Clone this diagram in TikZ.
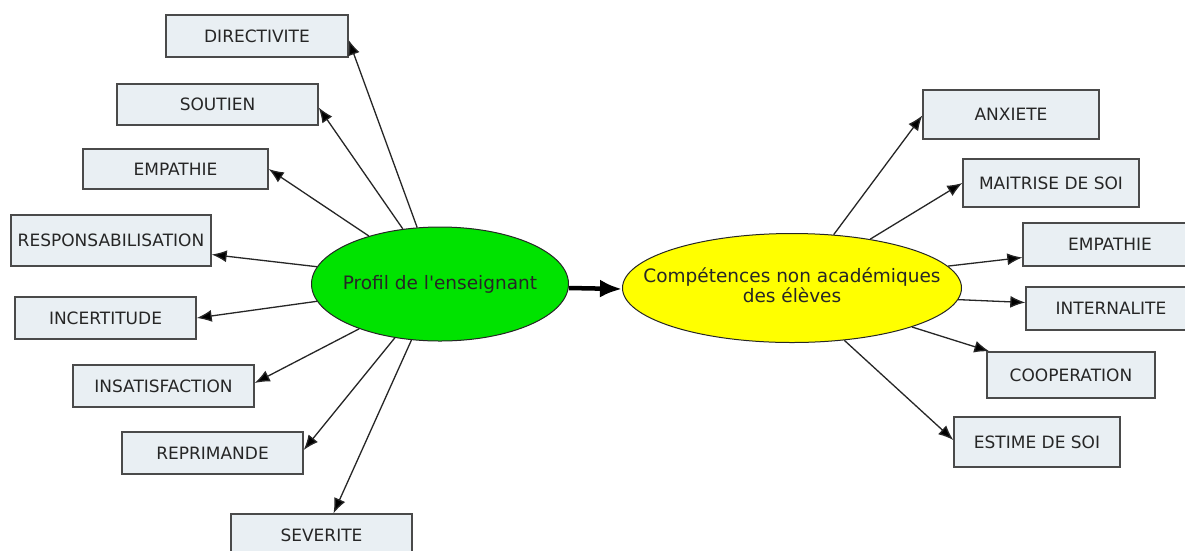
\documentclass[tikz,border=0pt]{standalone}
\usepackage{fontspec}
\setmainfont{DejaVu Sans}
\usetikzlibrary{arrows.meta,shapes.geometric}
\definecolor{boxfill}{HTML}{E9EFF3}
\definecolor{boxline}{HTML}{4A4A4A}
\definecolor{profil}{HTML}{00E300}
\definecolor{eleves}{HTML}{FFFF00}
\definecolor{ink}{HTML}{262626}
\tikzset{%
    >={Latex[length=15pt,width=12pt]}
}

\begin{document}
\begin{tikzpicture}[x=1pt, y=-1pt,
    concept/.style={draw=boxline, fill=boxfill, line width=1.4pt, text=ink, inner sep=0pt,
      font=\fontsize{17}{20}\selectfont},
    hub/.style={ellipse, draw=ink, line width=1pt, text=ink, inner sep=0pt,
      font=\fontsize{18.5}{19}\selectfont},
    link/.style={-{Latex[length=15pt,width=12pt,fill=black]}, draw=ink, line width=1.3pt}]
  \useasboundingbox (0,0) rectangle (1185,550);
  \fill[white] (0,0) rectangle (1185,550);

  % the two centres
  \node[hub, fill=profil, minimum width=257pt, minimum height=114pt] (prof) at (440,284)
    {\makebox[0pt]{Profil de l\textquotesingle enseignant}};
  \node[hub, fill=eleves, minimum width=339pt, minimum height=109pt] (comp) at (792,288)
    {\makebox[0pt]{\begin{tabular}{@{}c@{}}Compétences non académiques\\des élèves\end{tabular}}};
  \draw[-{Latex[length=22pt,width=18pt]}, line width=4.5pt] ([shift={(0,4)}]prof.east) -- ([shift={(0,1)}]comp.west);

  % teacher profile
  \node[concept, minimum width=182pt, minimum height=42pt] (dir) at (257,36) {DIRECTIVITE};
  \node[concept, minimum width=201pt, minimum height=41pt] (sout) at (217.5,104.5) {SOUTIEN};
  \node[concept, minimum width=185pt, minimum height=40pt] (empl) at (175.5,169) {EMPATHIE};
  \node[concept, minimum width=200pt, minimum height=51pt] (resp) at (111,240.5) {RESPONSABILISATION};
  \node[concept, minimum width=181pt, minimum height=42pt] (inc) at (105.5,318) {INCERTITUDE};
  \node[concept, minimum width=181pt, minimum height=42pt] (insat) at (163.5,386) {INSATISFACTION};
  \node[concept, minimum width=181pt, minimum height=42pt] (repr) at (212.5,453) {REPRIMANDE};
  \node[concept, minimum width=181pt, minimum height=42pt] (sev) at (321.5,535) {SEVERITE};

  \draw[link] (prof.112) -- ([shift={(0,4)}]dir.east);
  \draw[link] (prof.124) -- ([shift={(0,3)}]sout.east);
  \draw[link] (prof.146) -- (empl.east);
  \draw[link] (prof.172) -- ([shift={(0,14)}]resp.east);
  \draw[link] (prof.188) -- (inc.east);
  \draw[link] (prof.209) -- ([shift={(0,-3)}]insat.east);
  \draw[link] (prof.230) -- ([shift={(0,-3)}]repr.east);
  \draw[link] (prof.243) -- ([shift={(12,0)}]sev.north);

  % pupils' skills
  \node[concept, minimum width=176pt, minimum height=49pt] (anx) at (1011,114.5) {ANXIETE};
  \node[concept, minimum width=176pt, minimum height=48pt] (mait) at (1051,183) {MAITRISE DE SOI};
  \node[concept, minimum width=174pt, minimum height=43pt] (empr) at (1110,244.5) {EMPATHIE};
  \node[concept, minimum width=170pt, minimum height=43pt] (int) at (1111,308.5) {INTERNALITE};
  \node[concept, minimum width=168pt, minimum height=46pt] (coop) at (1071,375) {COOPERATION};
  \node[concept, minimum width=166pt, minimum height=50pt] (est) at (1037,442) {ESTIME DE SOI};

  \draw[link] (comp.52) -- ([shift={(0,1)}]anx.west);
  \draw[link] (comp.32) -- (mait.west);
  \draw[link] (comp.8) -- ([shift={(0,13)}]empr.west);
  \draw[link] (comp.356) -- ([shift={(0,-6)}]int.west);
  \draw[link] (comp.342) -- ([shift={(3,0)}]coop.north west);
  \draw[link] (comp.315) -- ([shift={(0,-2)}]est.west);
\end{tikzpicture}
\end{document}
